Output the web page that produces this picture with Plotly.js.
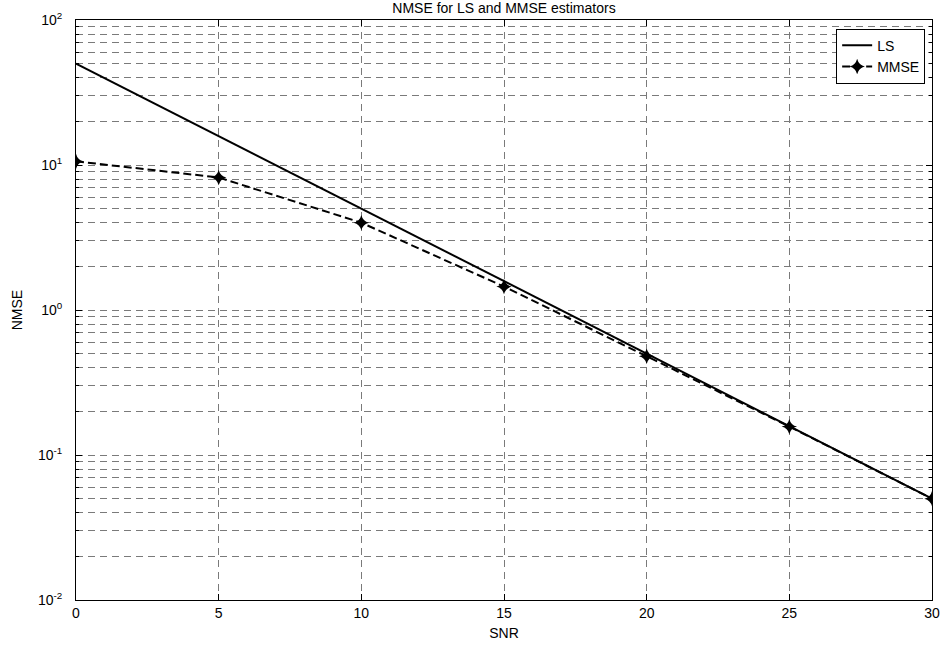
<!DOCTYPE html>
<html>
<head>
<meta charset="utf-8">
<script src="https://cdn.plot.ly/plotly-3.0.1.min.js"></script>
<style>html,body{margin:0;padding:0;background:#fff;}#chart{width:944px;height:646px;}</style>
</head>
<body>
<div id="chart"></div>
<script>
const snr = [0, 5, 10, 15, 20, 25, 30];
const lsNmse = [50, 15.8, 5.0, 1.58, 0.50, 0.158, 0.050];
const mmseNmse = [10.6, 8.2, 4.0, 1.45, 0.48, 0.157, 0.050];
const xTicks = [0, 5, 10, 15, 20, 25, 30];
const yTickVals = [0.01, 0.1, 1, 10, 100];
const yTickText = ['10<sup>-2</sup>', '10<sup>-1</sup>', '10<sup>0</sup>', '10<sup>1</sup>', '10<sup>2</sup>'];
const yMinorVals = [];
[0.01, 0.1, 1, 10].forEach(d => { for (let k = 2; k <= 9; k++) yMinorVals.push(d * k); });

const font = {family: 'Liberation Sans, Arial, sans-serif', size: 14, color: '#000'};
const gridColor = '#7a7a7a';
const gridDash = '7px,5px';

const traces = [
  {x: snr, y: lsNmse, name: 'LS', mode: 'lines', type: 'scatter',
   line: {color: '#000', width: 2}},
  {x: snr, y: mmseNmse, name: 'MMSE', mode: 'lines+markers', type: 'scatter',
   line: {color: '#000', width: 2, dash: '8px,4px'},
   marker: {symbol: 'star-diamond', size: 11, color: '#000'}}
];

const layout = {
  width: 944, height: 646,
  margin: {l: 76, r: 12, t: 20, b: 46},
  paper_bgcolor: '#fff', plot_bgcolor: '#fff',
  font: font,
  title: {text: 'NMSE for LS and MMSE estimators', font: {size: 14, color: '#000', family: font.family},
          x: 0.5, xref: 'paper', y: 1, yref: 'container', yanchor: 'top', pad: {t: 3}},
  showlegend: true,
  legend: {x: 0.992, y: 0.985, xanchor: 'right', yanchor: 'top', bgcolor: '#fff',
           bordercolor: '#000', borderwidth: 1, font: {size: 14, color: '#000', family: font.family},
           itemwidth: 30, tracegroupgap: 0},
  xaxis: {
    range: [0, 30], tickmode: 'array', tickvals: xTicks, ticktext: xTicks.map(String),
    showgrid: true, gridcolor: gridColor, griddash: gridDash, gridwidth: 1,
    zeroline: false, showline: true, linecolor: '#000', linewidth: 1, mirror: 'ticks',
    ticks: 'inside', ticklen: 6, tickcolor: '#000',
    tickfont: font,
    title: {text: 'SNR', font: font, standoff: 8}
  },
  yaxis: {
    type: 'log', range: [-2, 2], tickmode: 'array', tickvals: yTickVals, ticktext: yTickText,
    showgrid: true, gridcolor: gridColor, griddash: gridDash, gridwidth: 1,
    zeroline: false, showline: true, linecolor: '#000', linewidth: 1, mirror: 'ticks',
    ticks: 'inside', ticklen: 6, tickcolor: '#000',
    tickfont: font, ticklabelstandoff: 10,
    minor: {tickmode: 'array', tickvals: yMinorVals, ticks: 'inside', ticklen: 3, tickcolor: '#000',
            showgrid: true, gridcolor: gridColor, griddash: gridDash, gridwidth: 1},
    title: {text: 'NMSE', font: font, standoff: 12}
  }
};

Plotly.newPlot('chart', traces, layout, {displayModeBar: false, staticPlot: true});
</script>
</body>
</html>
